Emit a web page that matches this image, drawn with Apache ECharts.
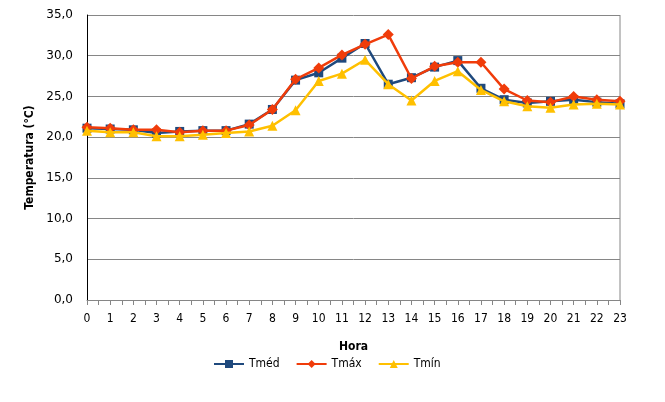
<!DOCTYPE html>
<html><head><meta charset="utf-8">
<script src="https://cdn.jsdelivr.net/npm/echarts@6/dist/echarts.min.js"></script>
<style>html,body{margin:0;padding:0;background:#fff}#c{width:665px;height:402px}</style>
</head><body><div id="c"></div>
<script>
const hours = [0,1,2,3,4,5,6,7,8,9,10,11,12,13,14,15,16,17,18,19,20,21,22,23];
const tmed = [21.1,21.0,20.9,20.5,20.7,20.8,20.8,21.6,23.4,27.0,27.9,29.7,31.5,26.5,27.3,28.6,29.4,26.0,24.6,24.2,24.4,24.6,24.3,24.1];
const tmax = [21.2,21.1,20.9,20.9,20.6,20.8,20.8,21.5,23.4,27.1,28.5,30.1,31.4,32.6,27.2,28.7,29.2,29.2,25.9,24.5,24.3,25.0,24.6,24.4];
const tmin = [20.8,20.6,20.6,20.1,20.1,20.3,20.5,20.7,21.4,23.3,26.9,27.8,29.5,26.5,24.5,26.9,28.1,25.8,24.4,23.8,23.6,24.0,24.1,24.0];
const seriesNames = ['Tméd','Tmáx','Tmín'];
const colors = ['#1F497D','#F03C0A','#FFC000'];
const font = '"DejaVu Sans Condensed","DejaVu Sans",Verdana,sans-serif';
const pair = a => hours.map((h,i)=>[h,a[i]]);
const chart = echarts.init(document.getElementById('c'));
chart.setOption({
  animation:false,
  textStyle:{fontFamily:font},
  grid:{left:87,right:45,top:15,bottom:102,containLabel:false},
  legend:{bottom:27,left:208,itemWidth:30,itemHeight:10,itemGap:16,
    textStyle:{fontFamily:font,fontSize:12,color:'#000'},data:seriesNames},
  xAxis:{type:'value',min:0,max:23,interval:1,
    name:'Hora',nameLocation:'middle',nameGap:41,
    nameTextStyle:{fontFamily:font,fontWeight:'bold',fontSize:12,color:'#000'},
    axisLine:{show:true,lineStyle:{color:'#868686'}},
    axisTick:{show:true,length:5,lineStyle:{color:'#868686'}},
    minorTick:{show:true,splitNumber:2,length:5,lineStyle:{color:'#868686'}},
    splitLine:{show:false},
    axisLabel:{fontFamily:font,fontSize:12,color:'#000',margin:13}},
  yAxis:{type:'value',min:0,max:35,interval:5,
    name:'Temperatura (°C)',nameLocation:'middle',nameGap:48,
    nameTextStyle:{fontFamily:font,fontWeight:'bold',fontSize:12,color:'#000'},
    axisLine:{show:true,lineStyle:{color:'#000'}},
    axisTick:{show:false},
    splitLine:{show:true,lineStyle:{color:'#868686',width:1}},
    axisLabel:{fontFamily:'"DejaVu Sans",Verdana,sans-serif',fontSize:12,color:'#000',margin:14,
      formatter:v=>v.toFixed(1).replace('.',',')}},
  series:[
    {name:seriesNames[0],type:'line',data:pair(tmed),symbol:'rect',symbolSize:9,
      lineStyle:{width:2.5,color:colors[0]},itemStyle:{color:colors[0]},z:2},
    {name:seriesNames[1],type:'line',data:pair(tmax),symbol:'diamond',symbolSize:11,
      lineStyle:{width:2.5,color:colors[1]},itemStyle:{color:colors[1]},z:3},
    {name:seriesNames[2],type:'line',data:pair(tmin),symbol:'triangle',symbolSize:10,
      lineStyle:{width:2.5,color:colors[2]},itemStyle:{color:colors[2]},z:4}
  ]
});
chart.setOption({graphic:[{type:'line',shape:{x1:620,y1:15,x2:620,y2:300},style:{stroke:'#868686',lineWidth:1}}]});
</script></body></html>
